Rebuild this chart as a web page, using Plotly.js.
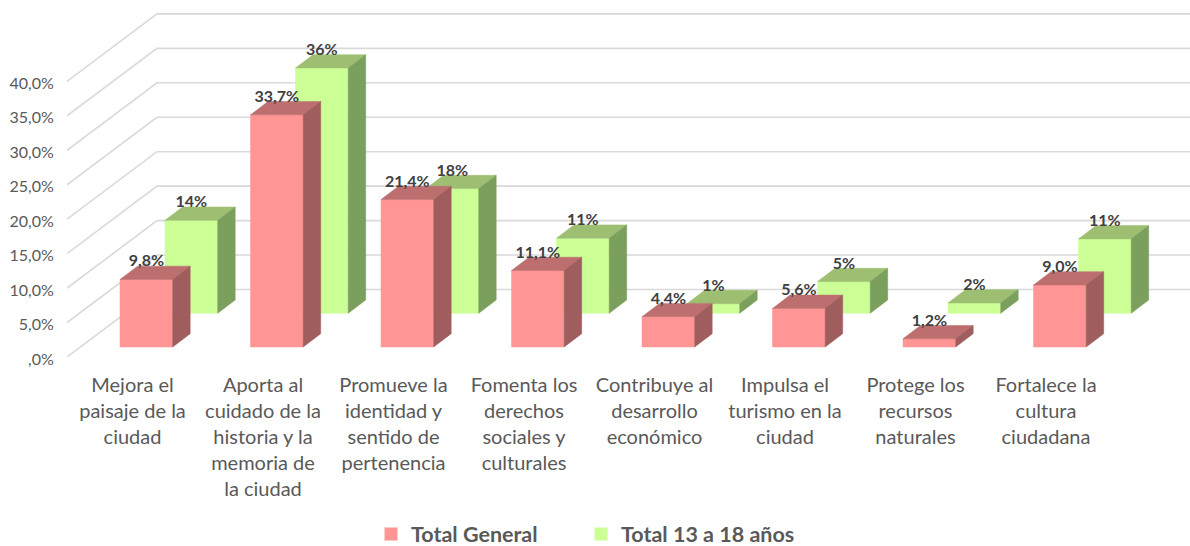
<!DOCTYPE html>
<html><head><meta charset="utf-8">
<script src="https://cdn.plot.ly/plotly-3.0.1.min.js"></script>
<style>html,body{margin:0;padding:0;background:#fff}#c{width:1190px;height:546px}</style>
</head><body><div id="c"></div>
<script>
const categories = ["Mejora el<br>paisaje de la<br>ciudad","Aporta al<br>cuidado de la<br>historia y la<br>memoria de<br>la ciudad","Promueve la<br>identidad y<br>sentido de<br>pertenencia","Fomenta los<br>derechos<br>sociales y<br>culturales","Contribuye al<br>desarrollo<br>económico","Impulsa el<br>turismo en la<br>ciudad","Protege los<br>recursos<br>naturales","Fortalece la<br>cultura<br>ciudadana"];
const totalGeneral = [9.8,33.7,21.4,11.1,4.4,5.6,1.2,9.0];
const total13a18 = [13.5,35.6,18.1,10.9,1.4,4.6,1.5,10.8];
const labelsGeneral = ["9,8%","33,7%","21,4%","11,1%","4,4%","5,6%","1,2%","9,0%"];
const labels13a18 = ["14%","36%","18%","11%","1%","5%","2%","11%"];
const yTicks = [0,5,10,15,20,25,30,35,40];
const yTickText = [",0%","5,0%","10,0%","15,0%","20,0%","25,0%","30,0%","35,0%","40,0%"];

// pixel scale of the oblique projection
const W=1190,H=546,L=67,FLOOR=357,PXU=130.5,PXP=6.89,CX0=132.5;
const ux=p=>p/PXU, uy=p=>p/PXP;
const xRange=[ux(L-CX0),ux(W-CX0)], yRange=[0,uy(FLOOR)];
const depthX=ux(17.5),depthY=uy(13.3),barW=ux(52.7);
function faces(vals,left,base){
  const f={fx:[],fy:[],tx:[],ty:[],sx:[],sy:[],cx:[],ly:[]};
  vals.forEach((v,i)=>{
    const a=i+left,b=a+barW,t=base+v;
    f.fx.push(a,b,b,a,a,null);f.fy.push(base,base,t,t,base,null);
    f.tx.push(a,b,b+depthX,a+depthX,a,null);f.ty.push(t,t,t+depthY,t+depthY,t,null);
    f.sx.push(b,b+depthX,b+depthX,b,b,null);f.sy.push(base,base+depthY,t+depthY,t,base,null);
    f.cx.push(a+barW/2);f.ly.push(t+uy(17));
  });
  return f;
}
const red=faces(totalGeneral,ux(120-CX0),uy(FLOOR-347));
const grn=faces(total13a18,ux(165-CX0),uy(FLOOR-313.3));
const poly=(x,y,c)=>({type:"scatter",mode:"lines",x,y,fill:"toself",fillcolor:c,line:{color:c,width:0.5},hoverinfo:"skip",showlegend:false});
const gridX=[],gridY=[];
yTicks.forEach(v=>{gridX.push(xRange[0],xRange[0]+ux(90),xRange[1],null);gridY.push(v,v+uy(67.5),v+uy(67.5),null);});
const lab=(x,y,t)=>({type:"scatter",mode:"text",x,y,text:t,textposition:"middle center",textfont:{family:"Lato",size:16,weight:700,color:"#404040"},hoverinfo:"skip",showlegend:false});
const leg=(n,c,l)=>({type:"scatter",mode:"markers",x:[null],y:[null],name:n,legend:l,marker:{symbol:"square",size:13,color:c}});
const C={rf:"#FF9595",rt:"#BD6F6F",rs:"#9F5D5D",gf:"#CCFF96",gt:"#9EBF71",gs:"#7B9F5C"};
const traces=[
 {type:"scatter",mode:"lines",x:gridX,y:gridY,line:{color:"#D9D9D9",width:1.6},hoverinfo:"skip",showlegend:false},
 poly(grn.fx,grn.fy,C.gf),poly(grn.tx,grn.ty,C.gt),poly(grn.sx,grn.sy,C.gs),
 poly(red.fx,red.fy,C.rf),poly(red.tx,red.ty,C.rt),poly(red.sx,red.sy,C.rs),
 lab(grn.cx,grn.ly,labels13a18),lab(red.cx,red.ly,labelsGeneral),
 leg("Total General",C.rf,"legend"),leg("Total 13 a 18 años",C.gf,"legend2")
];
const legendBox=(px)=>({orientation:"h",x:(px-L)/(W-L),xanchor:"left",y:(FLOOR-534)/FLOOR,yanchor:"middle",font:{family:"Lato",size:21.5,weight:700,color:"#595959"},itemclick:false,itemdoubleclick:false,bgcolor:"rgba(0,0,0,0)"});
const layout={
 width:W,height:H,margin:{l:L,r:0,t:0,b:H-FLOOR,pad:0,autoexpand:false},paper_bgcolor:"#fff",plot_bgcolor:"#fff",
 font:{family:"Lato",color:"#595959"},
 xaxis:{type:"linear",range:xRange,tickmode:"array",tickvals:categories.map((c,i)=>i),ticktext:categories,showgrid:false,zeroline:false,showline:false,ticks:"outside",ticklen:10,tickcolor:"rgba(0,0,0,0)",tickangle:0,tickfont:{family:"Lato",size:20,color:"#595959"}},
 yaxis:{range:yRange,tickmode:"array",tickvals:yTicks,ticktext:yTickText,showgrid:false,zeroline:false,showline:false,ticks:"outside",ticklen:9,ticklabelshift:2,tickcolor:"rgba(0,0,0,0)",tickfont:{family:"Lato",size:16,color:"#595959"}},
 legend:legendBox(371),
 legend2:legendBox(581),
 showlegend:true
};
Plotly.newPlot("c",traces,layout,{displayModeBar:false,staticPlot:true});
</script></body></html>
